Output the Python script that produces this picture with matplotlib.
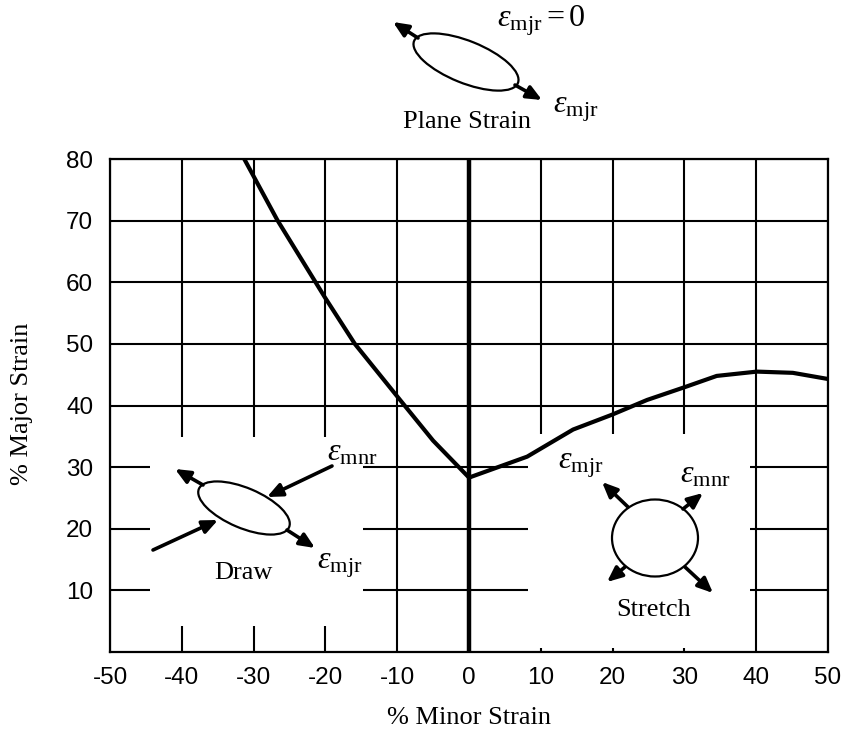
import matplotlib
matplotlib.use("Agg")
import matplotlib.pyplot as plt
from matplotlib.patches import Ellipse, Rectangle, FancyArrowPatch

plt.rcParams['mathtext.fontset'] = 'custom'
plt.rcParams['mathtext.rm'] = 'Liberation Serif'
plt.rcParams['mathtext.it'] = 'Liberation Serif:italic'

# ---- data ----
minor_strain = [-31.3, -26.7, -20.1, -15.9, -9.6, -5.0, 0.0,
                8.1, 14.5, 19.9, 24.8, 30.1, 34.5, 40.1, 45.1, 50.0]
major_strain = [80.0, 70.1, 57.6, 50.0, 40.9, 34.3, 28.3,
                31.7, 36.1, 38.5, 40.9, 43.0, 44.8, 45.5, 45.3, 44.3]
x_ticks = [-50, -40, -30, -20, -10, 0, 10, 20, 30, 40, 50]
y_ticks = [10, 20, 30, 40, 50, 60, 70, 80]
x_label = "% Minor Strain"
y_label = "% Major Strain"

W, H = 842, 733
fig = plt.figure(figsize=(W / 100, H / 100), dpi=100)
ax = fig.add_axes([110 / W, (H - 652) / H, 718 / W, 493 / H])
ax.set_xlim(-50, 50)
ax.set_ylim(0, 80)
ax.set_xticks(x_ticks)
ax.set_yticks(y_ticks)
ax.set_xticklabels([str(v) for v in x_ticks])
ax.set_yticklabels([str(v) for v in y_ticks])
ax.tick_params(length=0, labelsize=17.5)
ax.tick_params(axis='y', pad=12)
ax.tick_params(axis='x', pad=11)
for lab in ax.get_xticklabels() + ax.get_yticklabels():
    lab.set_fontfamily('Liberation Sans')
ax.set_axisbelow(True)
ax.grid(True, color='black', lw=1.5)
for sp in ax.spines.values():
    sp.set_linewidth(1.6)
    sp.set_zorder(2.5)

# white panels hiding grid where the sketches are
ax.add_patch(Rectangle((-44.4, 4.2), 29.6, 30.7, facecolor='white', edgecolor='none', zorder=1))
ax.add_patch(Rectangle((8.2, 0.6), 30.9, 34.7, facecolor='white', edgecolor='none', zorder=1))

ax.axvline(0, color='black', lw=3.2, zorder=2)
ax.plot(minor_strain, major_strain, color='black', lw=3, zorder=3, solid_joinstyle='round')

serif = 'Liberation Serif'
ax.set_xlabel(x_label, fontsize=19, fontfamily=serif, va='center', ha='center')
ax.xaxis.set_label_coords(0.5, -0.134)
ax.set_ylabel(y_label, fontsize=19, fontfamily=serif, va='center', ha='center')
ax.yaxis.set_label_coords(-0.1226, 0.503)

# ---- overlay in pixel coordinates for the sketches ----
ov = fig.add_axes([0, 0, 1, 1], zorder=5)
ov.set_xlim(0, W)
ov.set_ylim(H, 0)
ov.axis('off')
ov.patch.set_alpha(0)

def ell(cx, cy, w, h, ang):
    ov.add_patch(Ellipse((cx, cy), w, h, angle=ang, facecolor='white', edgecolor='black', lw=1.6))

def arr(x0, y0, x1, y1):
    ov.add_patch(FancyArrowPatch((x0, y0), (x1, y1),
                                 arrowstyle='-|>,head_length=0.5,head_width=0.22',
                                 mutation_scale=18, lw=2.6, color='black',
                                 shrinkA=0, shrinkB=0))

eps_mjr = r'$\varepsilon_{\mathrm{mjr}}$'
eps_mnr = r'$\varepsilon_{\mathrm{mnr}}$'
EFS = 23

# Plane strain
ell(466, 62, 112, 42, 22)
arr(418, 38, 393, 22)
arr(515, 85, 542, 100)
ov.text(497, 21, r'$\varepsilon_{\mathrm{mjr}} = 0$', fontsize=EFS, ha='left', va='center')
ov.text(553, 109, eps_mjr, fontsize=EFS, ha='left', va='center')
ov.text(467, 122, "Plane Strain", fontsize=19, fontfamily=serif, ha='center', va='center')

# Draw
ell(244, 508, 98, 40, 23)
arr(203, 485, 175, 469)
arr(287, 530, 315, 548)
arr(332, 466, 267, 497)
arr(153, 550, 218, 520)
ov.text(327, 452, eps_mnr, fontsize=EFS, ha='left', va='center')
ov.text(317, 565, eps_mjr, fontsize=EFS, ha='left', va='center')
ov.text(243, 573, "Draw", fontsize=19, fontfamily=serif, ha='center', va='center')

# Stretch
ell(655, 538, 86, 77, 0)
arr(628, 507, 602, 482)
arr(683, 509, 703, 493)
arr(625, 567, 607, 582)
arr(685, 567, 713, 593)
ov.text(558, 465, eps_mjr, fontsize=EFS, ha='left', va='center')
ov.text(680, 474, eps_mnr, fontsize=EFS, ha='left', va='center')
ov.text(654, 610, "Stretch", fontsize=19, fontfamily=serif, ha='center', va='center')

fig.savefig("out.png", dpi=100, facecolor='white')
